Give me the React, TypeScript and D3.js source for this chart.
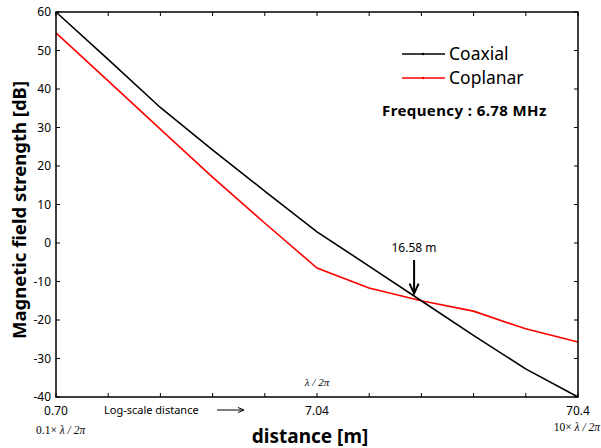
import React from "react";
import * as d3 from "d3";

const distances = [0.704, 1.115, 1.767, 2.8, 4.437, 7.04, 11.14, 17.66, 27.99, 44.36, 70.4];
const coaxial = [60, 47.7, 35.2, 24.2, 13.5, 2.9, -6.0, -15.0, -24.0, -32.7, -40];
const coplanar = [54.6, 42.1, 29.6, 17.1, 5.2, -6.5, -11.7, -15.0, -17.7, -22.3, -25.7];
const yTicks = [60, 50, 40, 30, 20, 10, 0, -10, -20, -30, -40];
const xTickLabels = [
  { v: 0.704, t: "0.70" },
  { v: 7.04, t: "7.04" },
  { v: 70.4, t: "70.4" },
];
const crossing = { x: 16.58, y: -14.7, label: "16.58 m" };

export default function App() {
  const L = 56, R = 578, T = 12, B = 397;
  const x = d3.scaleLog().domain([0.704, 70.4]).range([L, R]);
  const y = d3.scaleLinear().domain([-40, 60]).range([B, T]);
  const line = d3
    .line<number>()
    .x((_, i) => x(distances[i]))
    .y((d) => y(d));
  const minorTicks = d3.range(0, 11).map((i) => 0.704 * Math.pow(10, i * 0.2));
  const sans = "'Noto Sans', 'Open Sans', Arial, sans-serif";
  const serif = "'Times New Roman', 'Liberation Serif', serif";
  const ax = x(crossing.x);
  const ay = y(crossing.y);
  return (
    <svg width={601} height={448} style={{ position: "absolute", left: 0, top: 0, background: "#fff" }}>
      <rect x={0} y={0} width={601} height={448} fill="#fff" />
      {/* data lines */}
      <path d={line(coplanar) || ""} fill="none" stroke="#ff0000" strokeWidth={1.6} />
      <path d={line(coaxial) || ""} fill="none" stroke="#000" strokeWidth={1.6} />
      {/* frame */}
      <rect x={L} y={T} width={R - L} height={B - T} fill="none" stroke="#000" strokeWidth={1.5} />
      {/* x ticks inward, top and bottom */}
      {minorTicks.map((v, i) => (
        <g key={"xt" + i}>
          <line x1={x(v)} x2={x(v)} y1={B} y2={B - 4} stroke="#000" strokeWidth={1} />
          <line x1={x(v)} x2={x(v)} y1={T} y2={T + 4} stroke="#000" strokeWidth={1} />
        </g>
      ))}
      {/* y ticks inward, left and right */}
      {yTicks.map((v) => (
        <g key={"yt" + v}>
          <line x1={L} x2={L + 4} y1={y(v)} y2={y(v)} stroke="#000" strokeWidth={1} />
          <line x1={R} x2={R - 4} y1={y(v)} y2={y(v)} stroke="#000" strokeWidth={1} />
          <text x={51} y={y(v) + 4} textAnchor="end" fontFamily={sans} fontSize={12} fill="#000">
            {v}
          </text>
        </g>
      ))}
      {xTickLabels.map((d) => (
        <text key={d.t} x={x(d.v)} y={415} textAnchor="middle" fontFamily={sans} fontSize={12} fill="#000">
          {d.t}
        </text>
      ))}
      <text x={104} y={414} fontFamily={sans} fontSize={11} fill="#000">Log-scale distance</text>
      <line x1={217} x2={243} y1={410} y2={410} stroke="#000" strokeWidth={1} />
      <path d="M238,407.5 L244,410 L238,412.5" fill="none" stroke="#000" strokeWidth={1} />
      <text x={x(7.04)} y={386} textAnchor="middle" fontFamily={serif} fontStyle="italic" fontSize={11} fill="#000">λ / 2π</text>
      <text x={36} y={434} fontFamily={serif} fontSize={11.5} fill="#000">
        0.1× <tspan fontStyle="italic">λ / 2π</tspan>
      </text>
      <text x={600} y={431} textAnchor="end" fontFamily={serif} fontSize={11.5} fill="#000">
        10× <tspan fontStyle="italic">λ / 2π</tspan>
      </text>
      {/* axis titles */}
      <text x={310} y={443} textAnchor="middle" fontFamily={sans} fontWeight="bold" fontSize={19} fill="#000">distance [m]</text>
      <text transform="translate(26,210) rotate(-90)" textAnchor="middle" fontFamily={sans} fontWeight="bold" fontSize={18.5} fill="#000">
        Magnetic field strength [dB]
      </text>
      {/* legend */}
      <line x1={402} x2={445} y1={54} y2={54} stroke="#000" strokeWidth={1.6} />
      <circle cx={423} cy={54} r={1.2} fill="#000" />
      <text x={449} y={60} fontFamily={sans} fontSize={17.5} fill="#000">Coaxial</text>
      <line x1={402} x2={445} y1={78} y2={78} stroke="#ff0000" strokeWidth={1.6} />
      <circle cx={423} cy={78} r={1.2} fill="#ff0000" />
      <text x={449} y={84} fontFamily={sans} fontSize={17.5} fill="#000">Coplanar</text>
      <text x={382} y={116} fontFamily={sans} fontWeight="bold" fontSize={15} letterSpacing={0.4} fill="#000">Frequency : 6.78  MHz</text>
      {/* annotation */}
      <text x={414} y={252} textAnchor="middle" fontFamily={sans} fontSize={12} fill="#000">{crossing.label}</text>
      <line x1={ax} x2={ax} y1={260} y2={ay - 8} stroke="#000" strokeWidth={2} />
      <path d={`M${ax - 4.5},${ay - 16} L${ax},${ay - 6} L${ax + 4.5},${ay - 16}`} fill="none" stroke="#000" strokeWidth={2} />
    </svg>
  );
}
